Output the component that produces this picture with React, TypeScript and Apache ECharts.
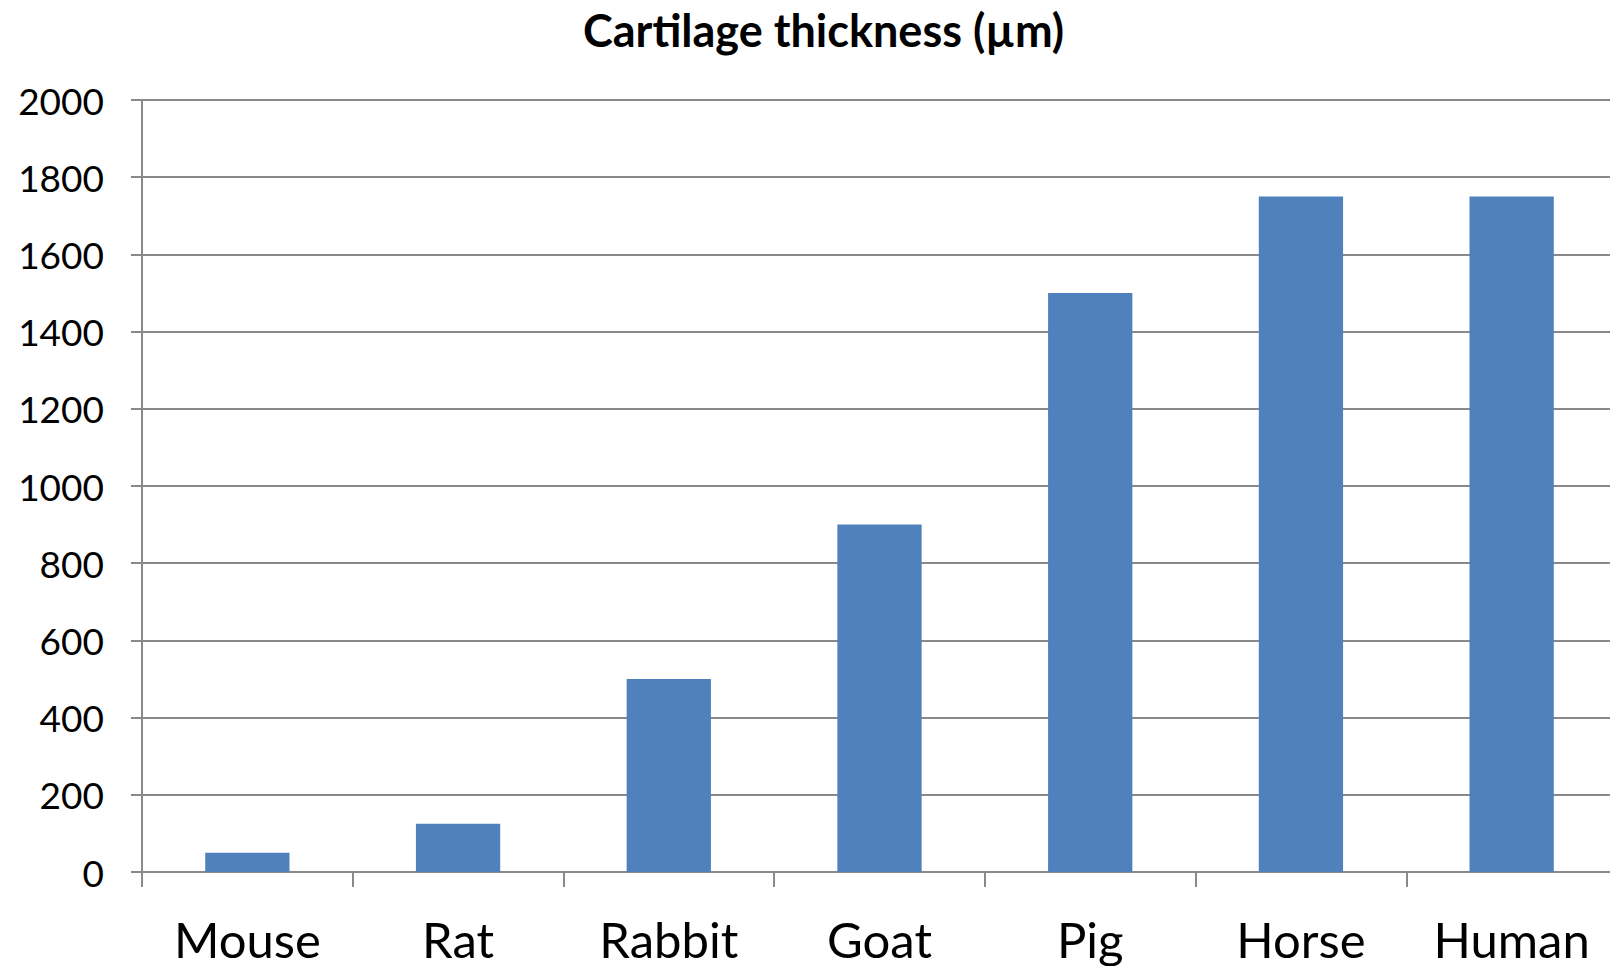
import React, { useEffect, useRef } from "react";
import * as echarts from "echarts";

// Articular cartilage thickness by species
const species = ["Mouse", "Rat", "Rabbit", "Goat", "Pig", "Horse", "Human"];
const thicknessUm = [50, 125, 500, 900, 1500, 1750, 1750];
const yTicks = [0, 200, 400, 600, 800, 1000, 1200, 1400, 1600, 1800, 2000];

const FONT = "Lato, 'Open Sans', sans-serif";
const GRID_GRAY = "#898989";

export default function App() {
  const ref = useRef<HTMLDivElement | null>(null);

  useEffect(() => {
    if (!ref.current) return;
    const chart = echarts.init(ref.current, undefined, { renderer: "svg" });
    chart.setOption({
      animation: false,
      backgroundColor: "#ffffff",
      title: {
        text: "Cartilage thickness (µm)",
        left: 578,
        top: 2,
        textStyle: {
          fontFamily: FONT,
          fontWeight: "bold",
          fontSize: 45,
          color: "#000000",
        },
      },
      grid: {
        left: 142,
        width: 1475,
        top: 100,
        bottom: 94,
        outerBoundsMode: "none",
        containLabel: false,
      },
      xAxis: {
        type: "category",
        data: species,
        boundaryGap: true,
        axisLine: { show: true, lineStyle: { color: GRID_GRAY, width: 2 } },
        axisTick: {
          show: true,
          length: 15,
          lineStyle: { color: GRID_GRAY, width: 2 },
        },
        axisLabel: {
          fontFamily: FONT,
          fontSize: 49,
          color: "#000000",
          margin: 42,
          interval: 0,
        },
      },
      yAxis: {
        type: "value",
        min: yTicks[0],
        max: yTicks[yTicks.length - 1],
        interval: yTicks[1] - yTicks[0],
        axisLine: { show: true, lineStyle: { color: GRID_GRAY, width: 2 } },
        axisTick: {
          show: true,
          length: 11,
          lineStyle: { color: GRID_GRAY, width: 2 },
        },
        splitLine: { show: true, lineStyle: { color: GRID_GRAY, width: 2 } },
        axisLabel: {
          fontFamily: FONT,
          fontSize: 37,
          color: "#000000",
          margin: 38,
          formatter: (v: number) => String(v),
        },
      },
      series: [
        {
          type: "bar",
          data: thicknessUm,
          barWidth: "40%",
          itemStyle: { color: "#4F81BD" },
        },
      ],
    });
    return () => chart.dispose();
  }, []);

  return (
    <div
      ref={ref}
      style={{ position: "fixed", left: 0, top: 0, width: 1610, height: 966 }}
    />
  );
}
